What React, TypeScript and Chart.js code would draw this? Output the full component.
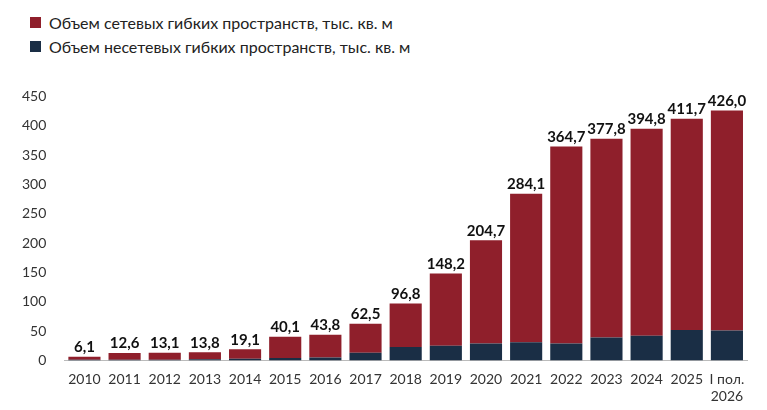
import React, { useEffect, useRef } from "react";
import { Chart, registerables } from "chart.js";
Chart.register(...registerables);

const categories: (string | string[])[] = ["2010","2011","2012","2013","2014","2015","2016","2017","2018","2019","2020","2021","2022","2023","2024","2025",["I пол.","2026"]];
const totals = [6.1,12.6,13.1,13.8,19.1,40.1,43.8,62.5,96.8,148.2,204.7,284.1,364.7,377.8,394.8,411.7,426.0];
const nonNetwork = [1,1,1,2,3,4,5,13,23,25,29,31,29,39,42,52,51];
const network = totals.map((t, i) => +(t - nonNetwork[i]).toFixed(1));
const RED = "#8f1f2b";
const NAVY = "#1a2e45";
const FONT = "Lato, 'Open Sans', sans-serif";

const labelPlugin = {
  id: "totals",
  afterDatasetsDraw(chart: any) {
    const ctx = chart.ctx;
    const meta = chart.getDatasetMeta(1);
    ctx.save();
    ctx.font = `bold 15px ${FONT}`;
    ctx.fillStyle = "#111";
    ctx.textAlign = "center";
    ctx.textBaseline = "bottom";
    meta.data.forEach((bar: any, i: number) => {
      ctx.fillText(totals[i].toFixed(1).replace(".", ","), bar.x, bar.y - 2);
    });
    ctx.restore();
  },
};

export default function App() {
  const ref = useRef<HTMLCanvasElement>(null);
  useEffect(() => {
    const chart = new Chart(ref.current!, {
      type: "bar",
      data: {
        labels: categories,
        datasets: [
          { label: "Объем несетевых гибких пространств, тыс. кв. м", data: nonNetwork, backgroundColor: NAVY },
          { label: "Объем сетевых гибких пространств, тыс. кв. м", data: network, backgroundColor: RED },
        ],
      },
      options: {
        animation: false,
        responsive: false,
        layout: { padding: { top: 8, right: 20, left: 12 } },
        plugins: { legend: { display: false }, tooltip: { enabled: false } },
        datasets: { bar: { barPercentage: 0.8, categoryPercentage: 1, borderWidth: 0 } },
        scales: {
          x: {
            stacked: true,
            grid: { display: false },
            border: { color: "#bbb" },
            ticks: { color: "#333", font: { family: FONT, size: 14 }, maxRotation: 0, autoSkip: false },
          },
          y: {
            stacked: true,
            min: 0, max: 450,
            grid: { display: false },
            border: { display: false },
            ticks: { stepSize: 50, color: "#333", font: { family: FONT, size: 14 }, padding: 10 },
          },
        },
      },
      plugins: [labelPlugin],
    });
    return () => chart.destroy();
  }, []);
  const item = (c: string, t: string) => (
    <div style={{ display: "flex", alignItems: "center", height: 24 }}>
      <span style={{ width: 11, height: 11, background: c, display: "inline-block", marginRight: 8 }} />
      <span>{t}</span>
    </div>
  );
  return (
    <div style={{ position: "absolute", left: 0, top: 0, width: 767, height: 410, background: "#fff", fontFamily: FONT, fontSize: 16, color: "#222" }}>
      <div style={{ position: "absolute", left: 30, top: 10 }}>
        {item(RED, "Объем сетевых гибких пространств, тыс. кв. м")}
        {item(NAVY, "Объем несетевых гибких пространств, тыс. кв. м")}
      </div>
      <canvas ref={ref} width={767} height={330} style={{ position: "absolute", left: 0, top: 78 }} />
    </div>
  );
}
